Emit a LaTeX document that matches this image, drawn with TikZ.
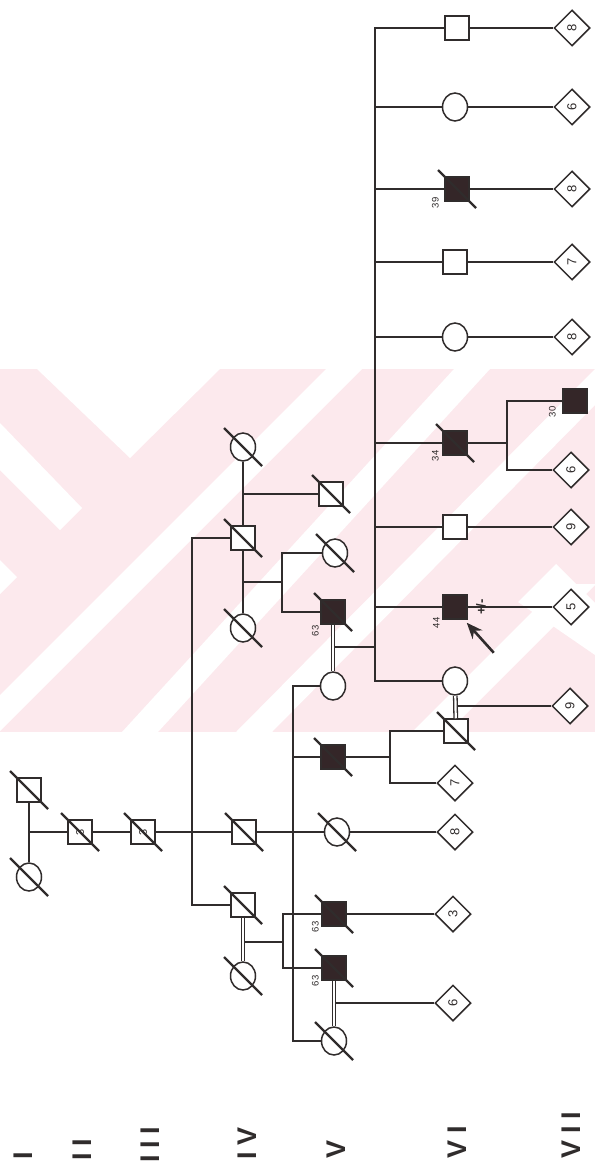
\documentclass[tikz,border=0pt]{standalone}
\usepackage{fontspec}
\setmainfont{Liberation Sans}
\usepackage{xcolor}
\usetikzlibrary{shapes.geometric,arrows.meta,calc}

\definecolor{ink}{RGB}{48,44,44}
\definecolor{affect}{RGB}{52,38,40}
\definecolor{wmark}{RGB}{252,233,237}
\newcommand{\gk}{\kern6.5pt}

\begin{document}
\begin{tikzpicture}[x=1pt,y=-1pt,color=ink,line width=1.5pt,
  male/.style={draw,rectangle,minimum size=24pt,inner sep=0pt,fill=white,line width=1.5pt},
  female/.style={draw,ellipse,minimum width=25pt,minimum height=28pt,inner sep=0pt,fill=white,line width=1.5pt},
  aff/.style={fill=affect},
  sibs/.style={draw,diamond,minimum size=36pt,inner sep=0pt,fill=white,line width=1.5pt,rotate=90,font=\fontsize{13}{13}\selectfont},
  inbox/.style={rotate=90,font=\fontsize{11}{11}\selectfont},
  slash/.style={line width=2.4pt},
  mate2/.style={double=white,double distance=2.2pt,line width=1.3pt},
  age/.style={rotate=90,inner sep=0pt,font=\fontsize{9.5}{10}\selectfont},
  gen/.style={rotate=90,anchor=west,inner sep=0pt,font=\fontsize{27}{27}\selectfont\bfseries},
  proband/.style={-{Stealth[length=16pt,width=13pt]},line width=2.6pt}]

\fill[white] (0,0) rectangle (595,1174);
\useasboundingbox (0,0) rectangle (595,1174);

% watermark
\fill[wmark] (0,369) rectangle (595,732);
\begin{scope}
\clip (0,369) rectangle (595,732);
\fill[white] (37,369) -- (220,369) -- (130,458) -- cycle;
\fill[white] (0,423) -- (82,508) -- (60,530) -- (0,470) -- cycle;
\fill[white] (0,560) -- (17,577) -- (0,594) -- cycle;
\fill[white] (0,695) -- (326,369) -- (362,369) -- (0,731) -- cycle;
\fill[white] (122,732) -- (454,369) -- (490,369) -- (158,732) -- cycle;
\fill[white] (236,732) -- (595,369) -- (595,405) -- (272,732) -- cycle;
\fill[white] (412,732) -- (560,584) -- (596,584) -- (448,732) -- cycle;
\fill[white] (518,602) -- (556,564) -- (595,603) -- (595,655) -- cycle;
\end{scope}

% generations I-III
\node[male] (I1) at (29,790) {};
\node[female] (I2) at (29,877) {};
\node[male,inbox] (II1) at (80,832) {3};
\node[male,inbox] (III1) at (143,832) {3};

% generation IV
\node[female] (IV1) at (243,447) {};
\node[male] (IV2) at (243,538) {};
\node[female] (IV3) at (243,628) {};
\node[male] (IV4) at (244,832) {};
\node[male] (IV5) at (243,905) {};
\node[female] (IV6) at (243,976) {};

% generation V
\node[male] (V1) at (331,494) {};
\node[female] (V2) at (335,553) {};
\node[male,aff] (V3) at (333,612) {};
\node[female] (V4) at (333,686) {};
\node[male,aff] (V5) at (333,757) {};
\node[female] (V6) at (337,832) {};
\node[male,aff] (V7) at (334,914) {};
\node[male,aff] (V8) at (334,968) {};
\node[female] (V9) at (334,1041) {};

% generation VI
\node[male] (VI1) at (457,28) {};
\node[female] (VI2) at (455,107) {};
\node[male,aff] (VI3) at (457,189) {};
\node[male] (VI4) at (455,262) {};
\node[female] (VI5) at (455,337) {};
\node[male,aff] (VI6) at (455,443) {};
\node[male] (VI7) at (455,527) {};
\node[male,aff] (VI8) at (455,607) {};
\node[female] (VI9) at (455,681) {};
\node[male] (VI10) at (456,731) {};
\node[sibs] (VI11) at (455,783) {7};
\node[sibs] (VI12) at (455,832) {8};
\node[sibs] (VI13) at (453,914) {3};
\node[sibs] (VI14) at (453,1003) {6};

% generation VII
\node[sibs] (VII1) at (572,28) {8};
\node[sibs] (VII2) at (572,107) {6};
\node[sibs] (VII3) at (572,189) {8};
\node[sibs] (VII4) at (572,262) {7};
\node[sibs] (VII5) at (572,337) {8};
\node[male,aff] (VII6) at (575,401) {};
\node[sibs] (VII7) at (571,470) {6};
\node[sibs] (VII8) at (571,527) {9};
\node[sibs] (VII9) at (571,607) {5};
\node[sibs] (VII10) at (570,706) {9};

% lines of descent
\draw (I1) -- (I2);
\draw (I1 |- II1) -- (II1);
\draw (II1) -- (III1);
\draw (III1) -- (IV4);
\coordinate (s3a) at (192,538);
\coordinate (s3b) at (192,905);
\draw (IV2) -- (s3a) -- (s3b) -- (IV5);
\draw (IV1) -- (IV2) -- (IV3);
\draw (IV2 |- V1) -- (V1);
\coordinate (j2) at (243,582);
\coordinate (s2a) at (282,553);
\coordinate (s2b) at (282,612);
\draw (j2) -- (j2 -| s2a);
\draw (V2) -- (s2a) -- (s2b) -- (V3);
\draw (IV4) -- (V6);
\coordinate (s4a) at (293,686);
\coordinate (s4b) at (293,1041);
\draw (V4) -- (s4a) -- (s4b) -- (V9);
\draw (s4a |- V5) -- (V5);
\coordinate (j5) at (243,942);
\coordinate (s5a) at (283,914);
\coordinate (s5b) at (283,968);
\draw (j5) -- (j5 -| s5a);
\draw (V7) -- (s5a) -- (s5b) -- (V8);
\draw[mate2] (IV5) -- (IV6);

\coordinate (sVIa) at (375,28);
\coordinate (sVIb) at (375,681);
\coordinate (j3) at (333,647);
\draw (j3) -- (j3 -| sVIa);
\draw[mate2] (V3) -- (V4);
\draw (VI1) -- (sVIa) -- (sVIb) -- (VI9);
\foreach \c in {VI2,VI3,VI4,VI5,VI6,VI7,VI8}
  \draw (sVIa |- \c) -- (\c);
\coordinate (s6) at (390,757);
\draw (V5) -- (s6);
\draw (VI10) -- (s6 |- VI10) -- (s6 |- VI11) -- (VI11);
\draw (V6) -- (VI12);
\draw (V7) -- (VI13);
\coordinate (j8) at (334,1003);
\draw (j8) -- (VI14);
\draw[mate2] (V8) -- (V9);

\draw (VI1) -- (VII1);
\draw (VI2) -- (VII2);
\draw (VI3) -- (VII3);
\draw (VI4) -- (VII4);
\draw (VI5) -- (VII5);
\coordinate (s7) at (507,443);
\draw (VI6) -- (s7);
\draw (VII6) -- (s7 |- VII6) -- (s7 |- VII7) -- (VII7);
\draw (VI7) -- (VII8);
\draw (VI8) -- (VII9);
\coordinate (j9) at (455,706);
\draw (j9) -- (VII10);
\draw[mate2] (VI9) -- (VI10);

% deceased
\foreach \n in {I1,I2,II1,III1,IV1,IV2,IV3,IV4,IV5,IV6,V1,V2,V3,V5,V6,V7,V8,V9,VI3,VI6,VI10}
  \draw[slash] ($(\n)+(-19,-19)$) -- ($(\n)+(19,19)$);

% ages
\node[age] at ($(V3.south west)+(-5,6)$) {63};
\node[age] at ($(V7.south west)+(-6,0)$) {63};
\node[age] at ($(V8.south west)+(-6,0)$) {63};
\node[age] at ($(VI3.south west)+(-9,1)$) {39};
\node[age] at ($(VI6.south west)+(-7,0)$) {34};
\node[age] at ($(VI8.south west)+(-6,3)$) {44};
\node[age] at ($(VII6.south west)+(-10,-2)$) {30};

% proband
\node[rotate=90,inner sep=0pt,font=\fontsize{13}{13}\selectfont\bfseries] (pm) at (481,607) {+/-};
\draw[proband] ($(VI8.south east)+(26,33)$) -- ($(VI8.south east)+(-1,3)$);

% generations
\node[gen] (gI) at (23,1160) {I};
\node[gen] (gII) at (82,1161) {I\gk I};
\node[gen] (gIII) at (150,1163) {I\gk I\gk I};
\node[gen] (gIV) at (247,1160) {I\gk V};
\node[gen] (gV) at (336,1159) {V};
\node[gen] (gVI) at (457,1159) {V\gk I};
\node[gen] (gVII) at (571,1159) {V\gk I\gk I};
\end{tikzpicture}
\end{document}
